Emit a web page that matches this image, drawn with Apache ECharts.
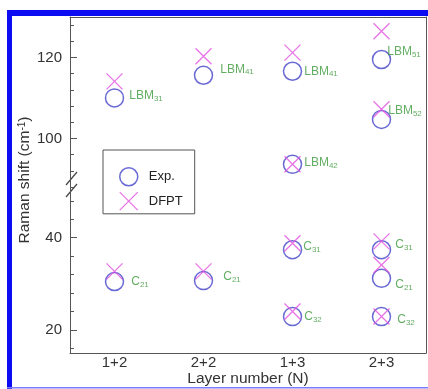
<!DOCTYPE html>
<html lang="en">
<head>
<meta charset="UTF-8">
<title>Raman shift vs layer number</title>
<script src="https://cdn.jsdelivr.net/npm/echarts@6/dist/echarts.min.js"></script>
<style>
  html, body { margin: 0; padding: 0; background: #fff; }
  #chart { width: 428px; height: 389px; }
</style>
</head>
<body>
<div id="chart"></div>
<script type="text/javascript">
// ---- data ----
var categories = ['1+2', '2+2', '1+3', '2+3'];
var modeCat   = [0, 0, 1, 1, 2, 2, 2, 2, 3, 3, 3, 3, 3];
var modeNames = ['LBM31', 'C21', 'LBM41', 'C21', 'LBM41', 'LBM42', 'C31', 'C32', 'LBM51', 'LBM52', 'C31', 'C21', 'C32'];
var expShift  = [110.0, 30.5, 115.6, 30.7, 116.6, 93.6, 37.4, 22.9, 119.5, 104.7, 37.4, 31.2, 22.9];
var dfptShift = [114.1, 32.7, 120.3, 32.7, 121.2, 93.6, 38.8, 24.0, 126.5, 107.2, 39.2, 34.1, 22.9];
var upperTicks = [100, 120];
var lowerTicks = [20, 40];
var upperMinor = [88, 92, 96, 104, 108, 112, 116, 124, 128];
var lowerMinor = [16, 24, 28, 32, 36, 44, 48];

// label nudges (px) so the names sit where they do in the figure
var labelShift = [[5, -2], [7, 0], [7, -6], [10, -4], [2, 0], [2, -2], [1, -3], [2, 0], [-4, -8], [-3, -9], [4, -5], [4, 6], [6, 3]];

var BREAK = 70; // values above this go to the upper panel
var blue = '#4343c9', pink = '#e34fe0', green = '#3c983c';
var crossPath = 'path://M0,0L16,16M16,0L0,16';

function split(values, upper, withLabel) {
  var out = [];
  for (var i = 0; i < values.length; i++) {
    if ((values[i] > BREAK) !== upper) continue;
    var m = modeNames[i].match(/^([A-Z]+)(\d+)$/);
    var item = { value: [categories[modeCat[i]], values[i]] };
    if (withLabel) {
      item.label = {
        show: true,
        position: 'right',
        distance: 0,
        offset: labelShift[i],
        formatter: '{m|' + m[1] + '}{s|' + m[2] + '}'
      };
    }
    out.push(item);
  }
  return out;
}

var labelRich = {
  m: { fontSize: 12, color: green, fontFamily: 'Liberation Sans', lineHeight: 14 },
  s: { fontSize: 8, color: green, fontFamily: 'Liberation Sans', verticalAlign: 'bottom', padding: [6, 0, 0, 0] }
};

var axisColor = '#555';
var font = 'Liberation Sans';

function yAxes(grid, min, max, major, minor) {
  return [
    {
      type: 'value', gridIndex: grid, min: min, max: max, position: 'left',
      axisLine: { show: true, lineStyle: { color: axisColor } },
      axisTick: { show: true, inside: true, length: 7, customValues: major, lineStyle: { color: axisColor } },
      axisLabel: { show: true, customValues: major, margin: 8, fontSize: 15, color: '#333', fontFamily: font },
      splitLine: { show: false }
    },
    {
      type: 'value', gridIndex: grid, min: min, max: max, position: 'left',
      axisLine: { show: false },
      axisTick: { show: true, inside: true, length: 4, customValues: minor, lineStyle: { color: axisColor } },
      axisLabel: { show: false },
      splitLine: { show: false }
    },
    {
      type: 'value', gridIndex: grid, min: min, max: max, position: 'right',
      axisLine: { show: true, lineStyle: { color: axisColor } },
      axisTick: { show: false },
      axisLabel: { show: false },
      splitLine: { show: false }
    }
  ];
}

var dom = document.getElementById('chart');
var myChart = echarts.init(dom, null, { renderer: 'canvas' });

var option = {
  animation: false,
  backgroundColor: '#fff',
  grid: [
    { left: 70, right: 2, top: 17, height: 170 },
    { left: 70, right: 2, top: 187, bottom: 36 },
    { left: 70, right: 2, top: 17, bottom: 46 }
  ],
  xAxis: [
    {
      type: 'category', gridIndex: 0, data: categories, position: 'top',
      axisLine: { lineStyle: { color: axisColor } },
      axisTick: { inside: true, alignWithLabel: true, length: 5, lineStyle: { color: axisColor } },
      axisLabel: { show: false }
    },
    {
      type: 'category', gridIndex: 1, data: categories, position: 'bottom',
      axisLine: { lineStyle: { color: axisColor } },
      axisTick: { inside: true, alignWithLabel: true, length: 5, lineStyle: { color: axisColor } },
      axisLabel: { margin: 2, fontSize: 15, color: '#333', fontFamily: font },
      name: 'Layer number (N)', nameLocation: 'middle', nameGap: 17,
      nameTextStyle: { fontSize: 15.5, color: '#333', fontFamily: font }
    },
    { type: 'value', gridIndex: 2, show: false }
  ],
  yAxis: yAxes(0, 88, 130, upperTicks, upperMinor)
    .concat(yAxes(1, 15, 51, lowerTicks, lowerMinor))
    .concat([{
      type: 'value', gridIndex: 2, min: 0, max: 1,
      axisLine: { show: false }, axisTick: { show: false }, axisLabel: { show: false }, splitLine: { show: false },
      name: '{a|Raman shift (cm}{b|-1}{a|)}', nameLocation: 'middle', nameGap: 37,
      nameTextStyle: {
        rich: {
          a: { fontSize: 15.5, color: '#333', fontFamily: font },
          b: { fontSize: 10, color: '#333', fontFamily: font, verticalAlign: 'top', padding: [0, 0, 6, 0] }
        }
      }
    }]),
  legend: {
    orient: 'vertical', left: 103, top: 150,
    padding: [17, 12, 3, 16],
    borderColor: '#555', borderWidth: 1,
    itemWidth: 30, itemHeight: 18, itemGap: 5,
    textStyle: { fontSize: 13, color: '#222', fontFamily: font },
    data: [
      { name: 'Exp.', icon: 'circle', itemStyle: { color: 'transparent', borderColor: blue, borderWidth: 1.5 } },
      { name: 'DFPT', icon: crossPath, itemStyle: { color: 'transparent', borderColor: pink, borderWidth: 1.3 } }
    ]
  },
  series: [
    {
      name: 'Exp.', type: 'scatter', xAxisIndex: 0, yAxisIndex: 0,
      symbol: 'circle', symbolSize: 18,
      itemStyle: { color: 'transparent', borderColor: blue, borderWidth: 1.5 },
      label: { rich: labelRich },
      data: split(expShift, true, true)
    },
    {
      name: 'Exp.', type: 'scatter', xAxisIndex: 1, yAxisIndex: 3,
      symbol: 'circle', symbolSize: 18,
      itemStyle: { color: 'transparent', borderColor: blue, borderWidth: 1.5 },
      label: { rich: labelRich },
      data: split(expShift, false, true)
    },
    {
      name: 'DFPT', type: 'scatter', xAxisIndex: 0, yAxisIndex: 0,
      symbol: crossPath, symbolSize: 16,
      itemStyle: { color: 'transparent', borderColor: pink, borderWidth: 1.3 },
      data: split(dfptShift, true, false)
    },
    {
      name: 'DFPT', type: 'scatter', xAxisIndex: 1, yAxisIndex: 3,
      symbol: crossPath, symbolSize: 16,
      itemStyle: { color: 'transparent', borderColor: pink, borderWidth: 1.3 },
      data: split(dfptShift, false, false)
    }
  ],
  graphic: [
    // axis break marks
    { type: 'line', shape: { x1: 66, y1: 185, x2: 77, y2: 172 }, style: { stroke: '#444', lineWidth: 1.2 } },
    { type: 'line', shape: { x1: 66, y1: 197, x2: 77, y2: 184 }, style: { stroke: '#444', lineWidth: 1.2 } },
    // blue page frame
    { type: 'rect', shape: { x: 7, y: 10, width: 5, height: 379 }, style: { fill: '#0c0cf2' } },
    { type: 'rect', shape: { x: 7, y: 10, width: 421, height: 6 }, style: { fill: '#0c0cf2' } },
    { type: 'rect', shape: { x: 7, y: 387, width: 421, height: 1.5 }, style: { fill: '#7b7bff' } }
  ]
};

myChart.setOption(option);
window.addEventListener('resize', myChart.resize);
</script>
</body>
</html>
